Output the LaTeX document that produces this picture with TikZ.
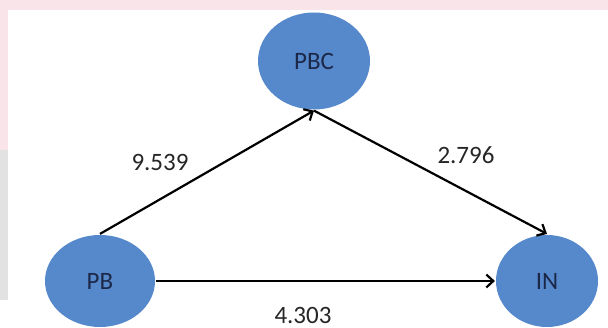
\documentclass[tikz,border=0pt]{standalone}
\usepackage{fontspec}
\setmainfont{Carlito}
\usepackage{tikz}
\usetikzlibrary{arrows.meta,shapes.geometric,positioning}

\definecolor{varblue}{RGB}{86,136,204}
\definecolor{vartext}{RGB}{28,40,72}
\definecolor{marktint}{RGB}{249,228,233}
\definecolor{markgrey}{RGB}{226,226,226}

\tikzset{
  var/.style={ellipse,fill=varblue,draw=none,inner sep=0pt,text=vartext,font=\fontsize{25}{29}\selectfont},
  weight/.style={text=black!85,font=\fontsize{25}{29}\selectfont}
}

\begin{document}
\begin{tikzpicture}[x=1pt,y=-1pt,->,>={Straight Barb[length=7pt,width=13pt]},line width=2.2pt]
  % faint backdrop
  \fill[marktint] (0,0) rectangle (608,328);
  \fill[markgrey] (0,150) rectangle (8,300);
  \fill[white] (0,300) rectangle (8,328);
  \fill[white] (8,10) rectangle (608,328);
  \useasboundingbox (0,0) rectangle (608,328);

  \node[var,minimum width=112pt,minimum height=97pt] (PBC) at (314,61)  {PBC};
  \node[var,minimum width=110pt,minimum height=92pt] (PB)  at (100,281) {PB};
  \node[var,minimum width=102pt,minimum height=92pt] (IN)  at (547,281) {IN};

  \node[weight] (w1) at (160,162) {9.539};
  \node[weight] (w2) at (466,155) {2.796};
  \node[weight] (w3) at (303,315) {4.303};

\path[->] (PB.north)  edge (PBC.south)
	  (PBC.south) edge (IN.north)
	  (PB.east)   edge (IN.west);
\end{tikzpicture}
\end{document}
